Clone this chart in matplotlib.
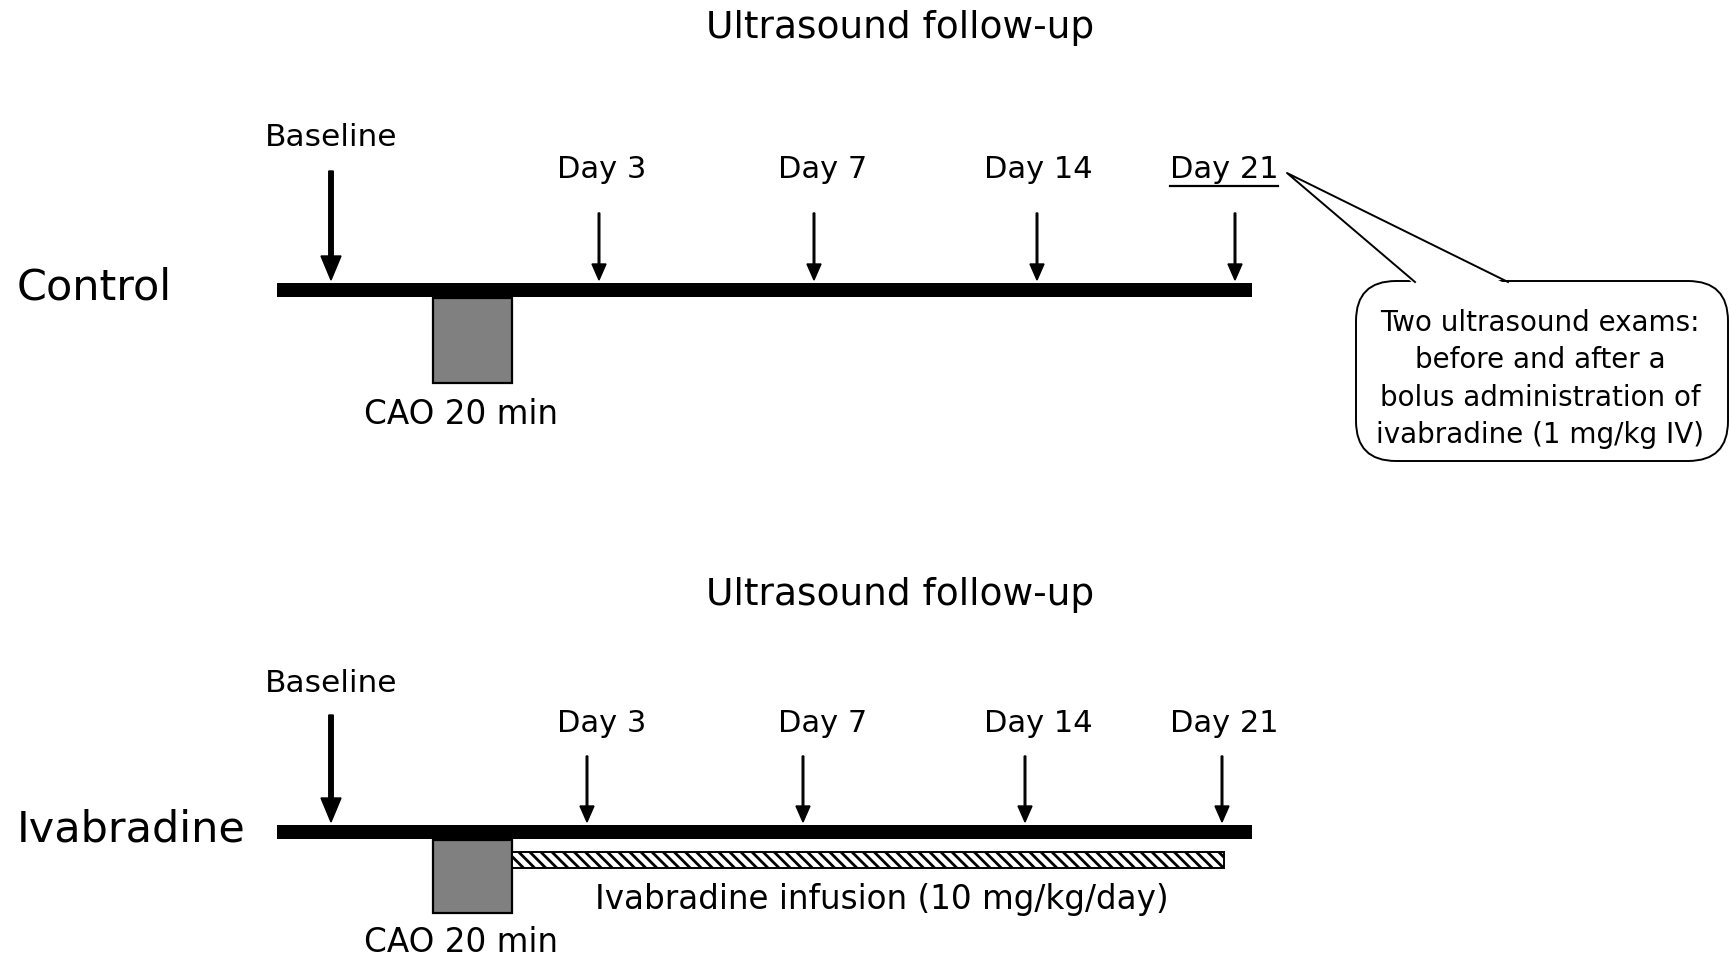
"""Study timeline diagram: control vs ivabradine groups with ultrasound follow-up."""

import matplotlib.pyplot as plt
from matplotlib.patches import FancyBboxPatch, Polygon, Rectangle

plt.rcParams["font.family"] = ["DejaVu Sans"]
plt.rcParams["hatch.linewidth"] = 2.0

GROUPS = ["Control", "Ivabradine"]
FOLLOW_UP_TITLE = "Ultrasound follow-up"
DAY_LABELS = ["Day 3", "Day 7", "Day 14", "Day 21"]
BASELINE_LABEL = "Baseline"
OCCLUSION_LABEL = "CAO 20 min"
INFUSION_LABEL = "Ivabradine infusion (10 mg/kg/day)"
CALLOUT_TEXT = (
    "Two ultrasound exams:\n"
    "before and after a\n"
    "bolus administration of\n"
    "ivabradine (1 mg/kg IV)"
)

# layout, in pixels of the 1729x960 canvas
W, H = 1729, 960
BAR_X0, BAR_X1 = 277, 1252
LABEL_X = [602, 823, 1038, 1224]
PANELS = [
    dict(title_y=28, base_label_y=138, base_x=331, arrow_top=171, label_y=169,
         day_x=[599, 814, 1037, 1235], day_top=213, bar_top=283, box_bottom=383,
         cao_y=415, group_y=287, underline_last=True, infusion=False),
    dict(title_y=595, base_label_y=684, base_x=331, arrow_top=715, label_y=723,
         day_x=[587, 803, 1025, 1222], day_top=756, bar_top=825, box_bottom=913,
         cao_y=942, group_y=829, underline_last=False, infusion=True),
]

fig = plt.figure(figsize=(W / 100, H / 100), dpi=100)
ax = fig.add_axes([0, 0, 1, 1])
ax.set_xlim(0, W)
ax.set_ylim(H, 0)
ax.axis("off")

for group, panel in zip(GROUPS, PANELS):
    bar_top = panel["bar_top"]
    bar_h = 14
    ax.text(900, panel["title_y"], FOLLOW_UP_TITLE, ha="center", va="center", fontsize=27)
    ax.text(17, panel["group_y"], group, ha="left", va="center", fontsize=31)

    # baseline arrow
    ax.text(panel["base_x"], panel["base_label_y"], BASELINE_LABEL, ha="center",
            va="center", fontsize=22.5)
    ax.arrow(panel["base_x"], panel["arrow_top"], 0, bar_top - 3 - panel["arrow_top"],
             width=4.5, head_width=20, head_length=24, length_includes_head=True,
             fc="black", ec="black")

    # follow-up days
    for i, (label, lx, dx) in enumerate(zip(DAY_LABELS, LABEL_X, panel["day_x"])):
        ax.text(lx, panel["label_y"], label, ha="center", va="center", fontsize=22)
        if panel["underline_last"] and i == len(DAY_LABELS) - 1:
            ax.plot([lx - 54, lx + 54], [panel["label_y"] + 17] * 2, color="black", lw=1.6)
        ax.arrow(dx, panel["day_top"], 0, bar_top - 3 - panel["day_top"],
                 width=1.6, head_width=14, head_length=16, length_includes_head=True,
                 fc="black", ec="black")

    # timeline bar
    ax.add_patch(Rectangle((BAR_X0, bar_top), BAR_X1 - BAR_X0, bar_h,
                           fc="black", ec="none", zorder=3))

    # coronary artery occlusion block
    box_top = bar_top + bar_h + 1
    ax.add_patch(Rectangle((433, box_top), 79, panel["box_bottom"] - box_top,
                           fc="#808080", ec="black", lw=1.6, zorder=2))
    ax.text(461, panel["cao_y"], OCCLUSION_LABEL, ha="center", va="center", fontsize=23.5)

    if panel["infusion"]:
        ax.add_patch(Rectangle((512, 852), 1224 - 512, 16, fc="white", ec="black",
                               lw=1.4, hatch="\\\\\\", zorder=2))
        ax.text(882, 900, INFUSION_LABEL, ha="center", va="center", fontsize=23.5)

# speech-bubble callout for day 21
ax.add_patch(FancyBboxPatch((1378, 303), 328, 136,
                            boxstyle="round,pad=22,rounding_size=40",
                            fc="white", ec="black", lw=1.4, zorder=4))
tip = (1287, 173)
base_left, base_right = (1415, 282), (1508, 282)
ax.add_patch(Polygon([tip, (base_left[0], base_left[1] + 3), (base_right[0], base_right[1] + 3)],
                     closed=True, fc="white", ec="none", zorder=5))
ax.plot([base_left[0], tip[0], base_right[0]], [base_left[1], tip[1], base_right[1]],
        color="black", lw=1.4, zorder=6)
ax.text(1540, 379, CALLOUT_TEXT, ha="center", va="center", fontsize=20,
        linespacing=1.42, zorder=7)

fig.savefig("out.png", dpi=100)
plt.close(fig)
